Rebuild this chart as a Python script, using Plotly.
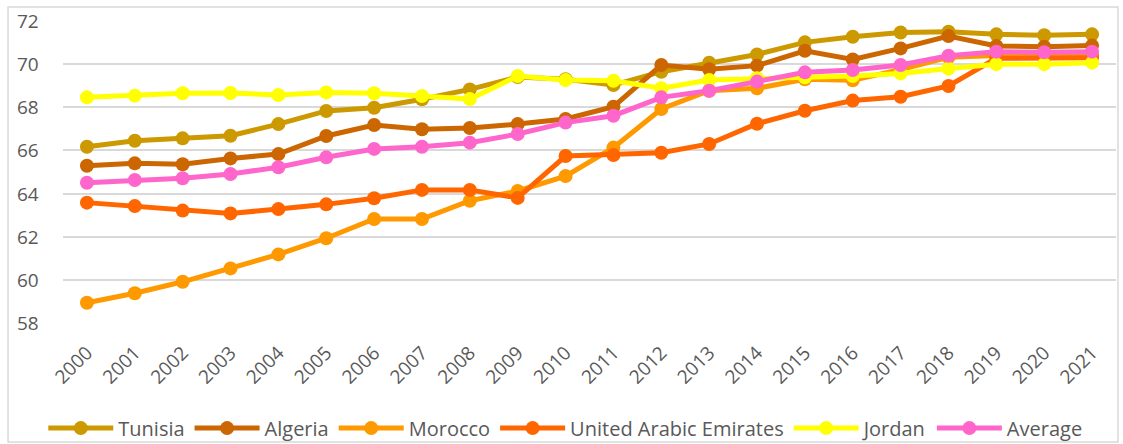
import plotly.graph_objects as go

years = [str(y) for y in range(2000, 2022)]
tunisia = [66.17, 66.45, 66.56, 66.68, 67.22, 67.83, 67.98, 68.37, 68.83, 69.4, 69.3, 69.03,
           69.65, 70.07, 70.45, 71.01, 71.27, 71.47, 71.5, 71.38, 71.34, 71.38]
algeria = [65.29, 65.4, 65.36, 65.63, 65.83, 66.67, 67.18, 66.98, 67.04, 67.22, 67.46, 68.03,
           69.96, 69.76, 69.93, 70.62, 70.22, 70.73, 71.3, 70.84, 70.81, 70.86]
morocco = [58.94, 59.38, 59.91, 60.53, 61.18, 61.93, 62.82, 62.82, 63.67, 64.12, 64.81, 66.13,
           67.92, 68.77, 68.88, 69.3, 69.25, 69.75, 70.32, 70.4, 70.4, 70.4]
uae = [63.58, 63.42, 63.21, 63.08, 63.28, 63.5, 63.78, 64.17, 64.17, 63.8, 65.74, 65.79,
       65.89, 66.3, 67.24, 67.84, 68.31, 68.49, 68.99, 70.27, 70.3, 70.3]
jordan = [68.46, 68.54, 68.65, 68.66, 68.57, 68.69, 68.65, 68.52, 68.38, 69.45, 69.26, 69.23,
          68.88, 69.26, 69.35, 69.39, 69.45, 69.57, 69.8, 70.0, 70.0, 70.07]
average = [64.5, 64.63, 64.71, 64.91, 65.22, 65.68, 66.07, 66.17, 66.36, 66.76, 67.29, 67.61,
           68.46, 68.77, 69.19, 69.62, 69.73, 69.96, 70.39, 70.58, 70.55, 70.58]
y_ticks = [58, 60, 62, 64, 66, 68, 70, 72]

series = [
    ("Tunisia", tunisia, "#CC9900"),
    ("Algeria", algeria, "#CC6600"),
    ("Morocco", morocco, "#FF9900"),
    ("United Arabic Emirates", uae, "#FF6600"),
    ("Jordan", jordan, "#FFFF00"),
    ("Average", average, "#FF66CC"),
]

fig = go.Figure()
for name, vals, col in series:
    fig.add_trace(go.Scatter(
        x=years, y=vals, name=name, mode="lines+markers",
        line=dict(color=col, width=5),
        marker=dict(color=col, size=14),
    ))

font_family = "Open Sans, Liberation Sans, Arial, sans-serif"
tick_font = dict(family=font_family, size=19, color="#595959")

# y tick labels placed with the same gap from the plot edge as the reference
for v in y_ticks:
    fig.add_annotation(x=-0.0209, xref="paper", y=v, yref="y", text=str(v),
                       showarrow=False, xanchor="right", yanchor="middle", font=tick_font)

fig.update_layout(
    width=1123, height=444,
    paper_bgcolor="white", plot_bgcolor="white",
    margin=dict(l=63, r=7, t=21, b=121, autoexpand=False),
    font=dict(family=font_family, size=18, color="#595959"),
    showlegend=True,
    legend=dict(orientation="h", x=0.477, xanchor="center", y=-0.348, yanchor="middle",
                font=dict(size=20, color="#595959"), itemwidth=65,
                bgcolor="rgba(0,0,0,0)"),
    xaxis=dict(type="category", range=[-0.5, 21.5], tickangle=-45, showgrid=False,
               showline=False, ticks="", automargin=False, ticklabelstandoff=14,
               tickfont=tick_font),
    yaxis=dict(range=[58, 72], tickmode="array", tickvals=y_ticks, showticklabels=False,
               showgrid=True, gridcolor="#D9D9D9", gridwidth=1.5,
               zeroline=False, showline=False, ticks="", automargin=False),
    shapes=[dict(type="rect", xref="paper", yref="paper",
                 x0=-0.0522, x1=1.0019, y0=-0.394, y1=1.046,
                 line=dict(color="#D9D9D9", width=1.5), fillcolor="rgba(0,0,0,0)", layer="below")],
)

fig.write_html("out.html", config={"displayModeBar": False},
               post_script="document.body.style.margin='0px';")
